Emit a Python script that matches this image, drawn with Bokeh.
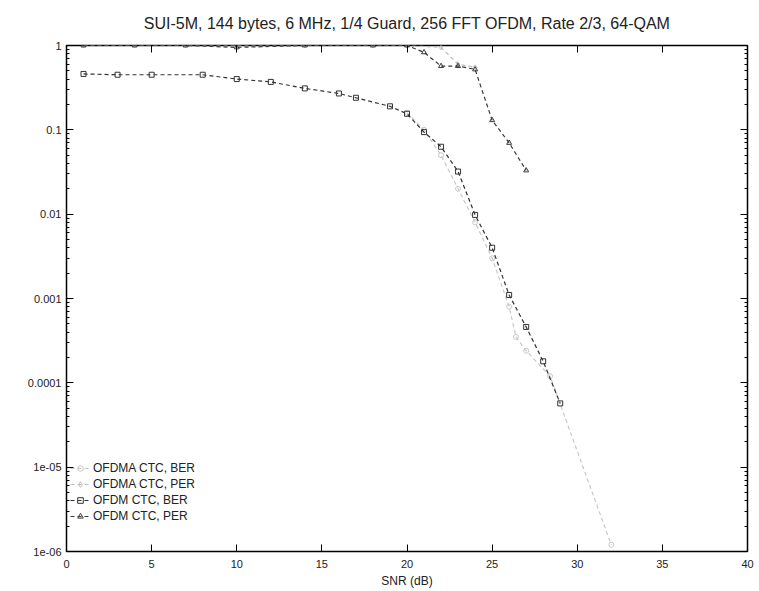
from bokeh.plotting import figure
from bokeh.models import (FixedTicker, LinearAxis, LogAxis, Legend, LegendItem,
                          Range1d, CustomJSTickFormatter)
from bokeh.embed import file_html
from bokeh.resources import INLINE

# ---- data ----
title_text = "SUI-5M, 144 bytes, 6 MHz, 1/4 Guard, 256 FFT OFDM, Rate 2/3, 64-QAM"
x_label = "SNR (dB)"
x_ticks = [0, 5, 10, 15, 20, 25, 30, 35, 40]
y_ticks = [1e-6, 1e-5, 1e-4, 1e-3, 1e-2, 1e-1, 1]
y_tick_labels = ["1e-06", "1e-05", "0.0001", "0.001", "0.01", "0.1", "1"]

series_names = ["OFDMA CTC, BER", "OFDMA CTC, PER", "OFDM CTC, BER", "OFDM CTC, PER"]

ofdma_ber_snr = [20, 21, 22, 23, 24, 25, 26, 26.4, 27, 28.4, 32]
ofdma_ber = [0.16, 0.10, 0.05, 0.02, 0.008, 0.003, 0.0008, 0.00035, 0.00024, 0.00012, 0.0000012]

ofdma_per_snr = [1, 4, 7, 10, 14, 18, 20, 22, 23, 24]
ofdma_per = [1.0, 1.0, 1.0, 1.0, 1.0, 1.0, 1.0, 0.95, 0.6, 0.55]

ofdm_ber_snr = [1, 3, 5, 8, 10, 12, 14, 16, 17, 19, 20, 21, 22, 23, 24, 25, 26, 27, 28, 29]
ofdm_ber = [0.46, 0.45, 0.45, 0.45, 0.40, 0.37, 0.31, 0.27, 0.24, 0.19, 0.155,
            0.094, 0.063, 0.032, 0.0098, 0.004, 0.0011, 0.00046, 0.00018, 0.000057]

ofdm_per_snr = [1, 4, 7, 10, 14, 18, 20, 21, 22, 23, 24, 25, 26, 27]
ofdm_per = [1.0, 1.0, 1.0, 0.95, 1.0, 1.0, 1.0, 0.83, 0.57, 0.57, 0.52, 0.13, 0.07, 0.033]

# ---- figure ----
FONT = "Liberation Sans"
p = figure(width=758, height=590, y_axis_type="log",
           x_range=Range1d(0, 40), y_range=Range1d(1e-6, 1),
           output_backend="svg", toolbar_location=None,
           min_border_left=66, min_border_right=11,
           min_border_top=45, min_border_bottom=36)

p.title.text = title_text
p.title.align = "center"
p.title.vertical_align = "top"
p.title.text_font = FONT
p.title.text_font_size = "16px"
p.title.text_font_style = "normal"
p.title.text_color = "#222222"
p.title.standoff = 24

p.grid.visible = False
p.outline_line_color = "black"
p.outline_line_width = 1.5
p.background_fill_color = "white"
p.border_fill_color = "white"

minor = [m * 10.0 ** e for e in range(-6, 0) for m in range(2, 10)]

def style_axis(ax):
    ax.axis_line_color = None
    ax.major_tick_in = 7
    ax.major_tick_out = 0
    ax.minor_tick_in = 3
    ax.minor_tick_out = 0
    ax.major_tick_line_color = "black"
    ax.minor_tick_line_color = "black"
    ax.major_label_text_font = FONT
    ax.major_label_text_font_size = "11px"
    ax.major_label_text_color = "#222222"
    ax.axis_label_text_font = FONT
    ax.axis_label_text_font_size = "12px"
    ax.axis_label_text_font_style = "normal"
    ax.axis_label_text_color = "#222222"

xa = p.xaxis[0]
xa.ticker = FixedTicker(ticks=x_ticks)
xa.axis_label = x_label
xa.major_label_standoff = 8
xa.axis_label_standoff = 3
style_axis(xa)

ya = p.yaxis[0]
ya.ticker = FixedTicker(ticks=y_ticks, minor_ticks=minor)
ya.major_label_overrides = {t: l for t, l in zip(y_ticks, y_tick_labels)}
ya.major_label_standoff = 5
style_axis(ya)

# mirrored tick marks on top and right (gnuplot style), without labels
blank = CustomJSTickFormatter(code="return '';")
top = LinearAxis(ticker=FixedTicker(ticks=x_ticks), formatter=blank)
style_axis(top)
top.major_label_standoff = 0
p.add_layout(top, "above")
right = LogAxis(ticker=FixedTicker(ticks=y_ticks, minor_ticks=minor), formatter=blank)
style_axis(right)
right.major_label_standoff = 0
p.add_layout(right, "right")

# ---- curves ----
styles = [
    dict(x=ofdma_ber_snr, y=ofdma_ber, color="#c8c8c8", marker="circle"),
    dict(x=ofdma_per_snr, y=ofdma_per, color="#bdbdbd", marker="diamond"),
    dict(x=ofdm_ber_snr, y=ofdm_ber, color="#333333", marker="square"),
    dict(x=ofdm_per_snr, y=ofdm_per, color="#3a3a3a", marker="triangle"),
]
items = []
for name, s in zip(series_names, styles):
    ln = p.line(s["x"], s["y"], line_color=s["color"], line_width=1.2, line_dash="4 3")
    sc = p.scatter(s["x"], s["y"], marker=s["marker"], size=5,
                   line_color=s["color"], fill_color=None, line_width=1)
    items.append(LegendItem(label=name, renderers=[ln, sc]))

legend = Legend(items=items, location=(4, 27))
legend.label_text_font = FONT
legend.label_text_font_size = "12px"
legend.label_text_color = "#222222"
legend.label_height = 16
legend.glyph_height = 14
legend.glyph_width = 20
legend.label_standoff = 3
legend.spacing = 0
legend.padding = 0
legend.margin = 0
legend.border_line_color = None
legend.background_fill_alpha = 0
p.add_layout(legend)

open("out.html", "w").write(file_html(p, INLINE))
